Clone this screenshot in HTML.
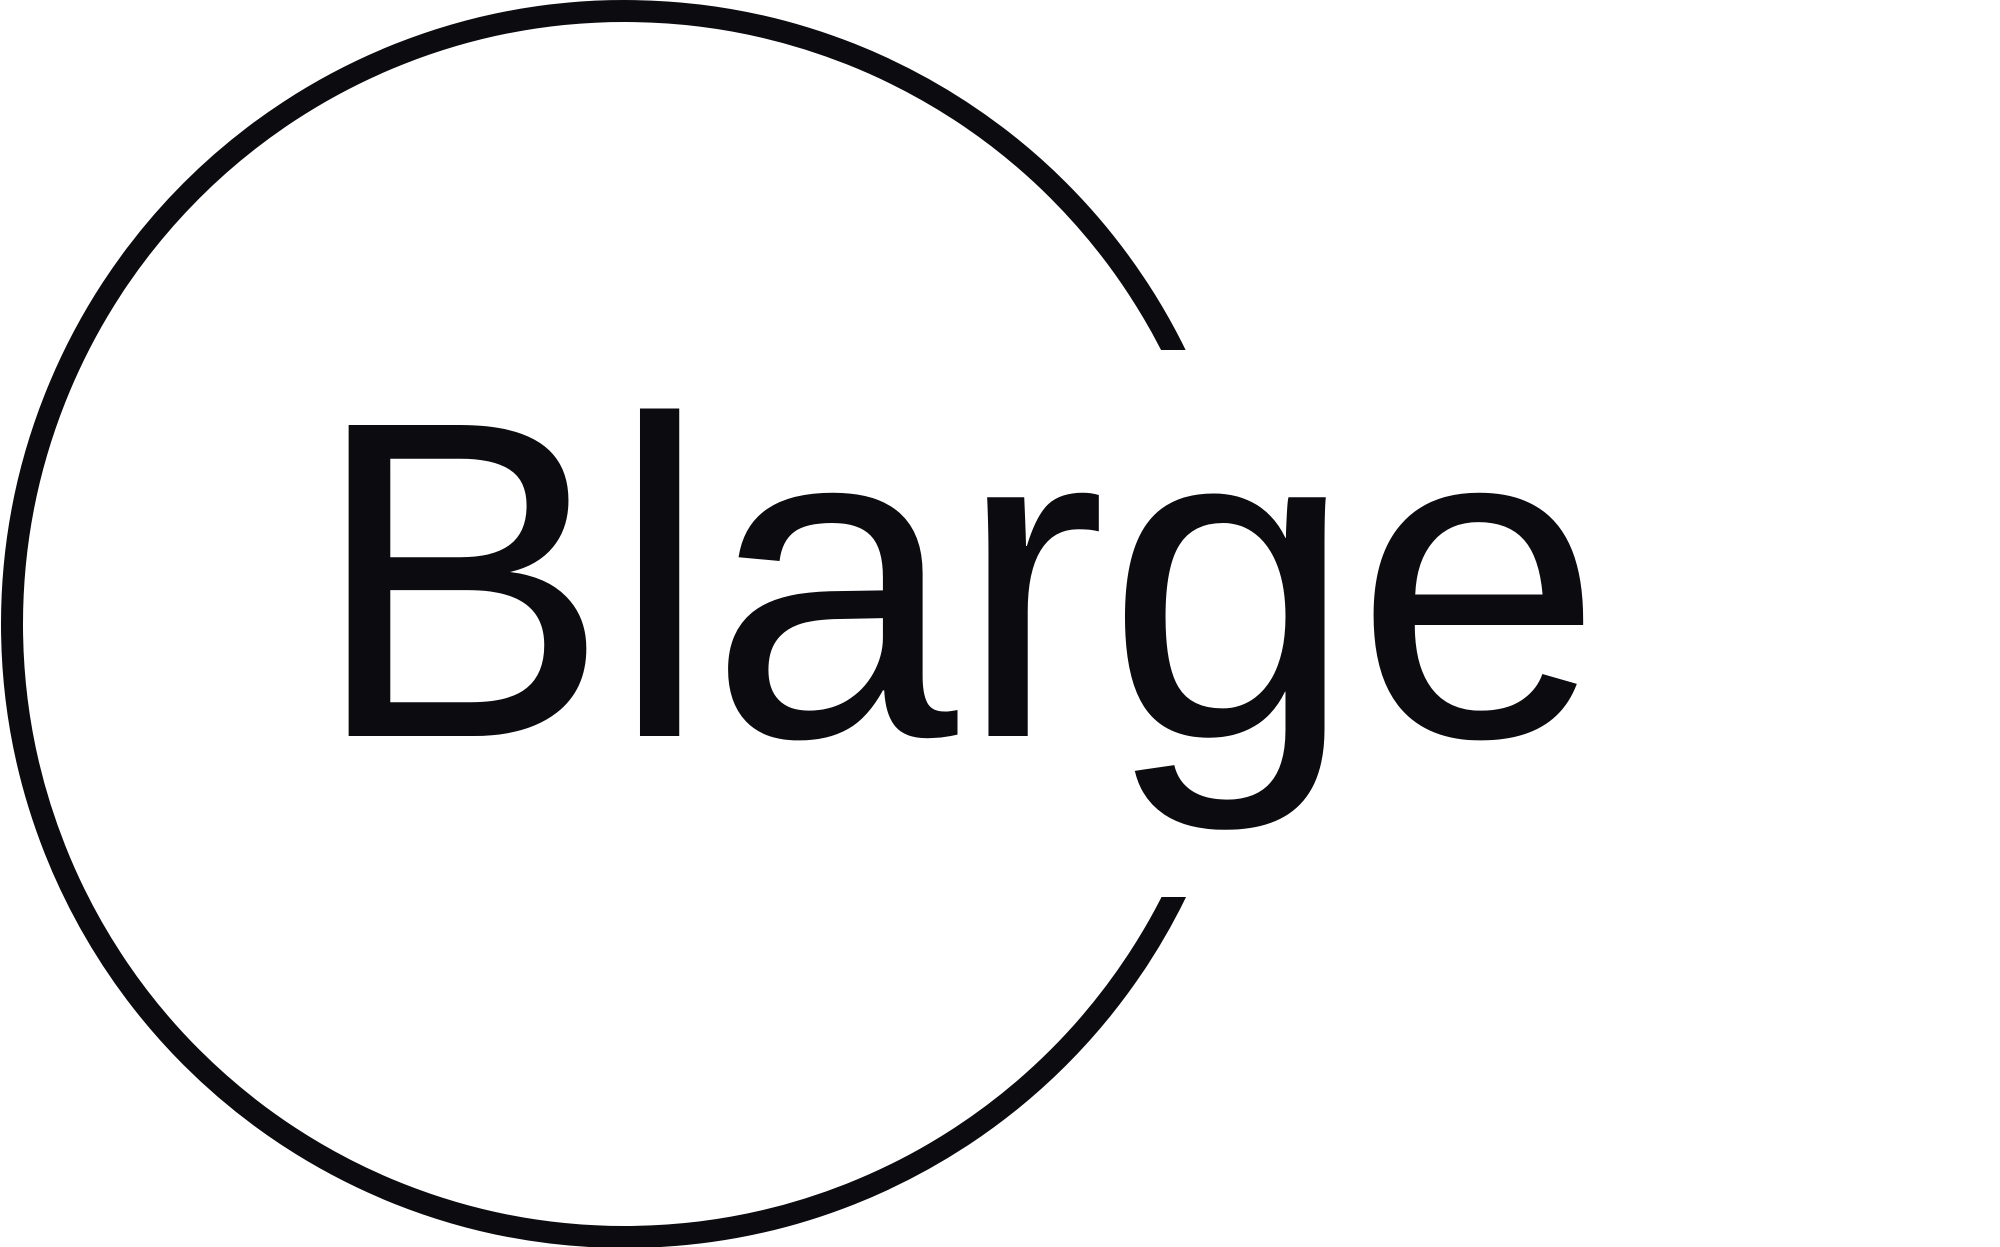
<!DOCTYPE html>
<html><head><meta charset="utf-8"><style>
html,body{margin:0;padding:0;background:#fff;}
svg{display:block;}
</style></head><body>
<svg width="2000" height="1247" viewBox="0 0 2000 1247">
  <circle cx="625" cy="624" r="613" fill="none" stroke="#0c0b10" stroke-width="22"/>
  <rect x="1100" y="350" width="900" height="547" fill="#fff"/>
  <text x="312" y="736" font-family="'Liberation Sans', sans-serif" font-size="452" fill="#0c0b10" textLength="1291" lengthAdjust="spacingAndGlyphs">Blarge</text>
</svg>
</body></html>
